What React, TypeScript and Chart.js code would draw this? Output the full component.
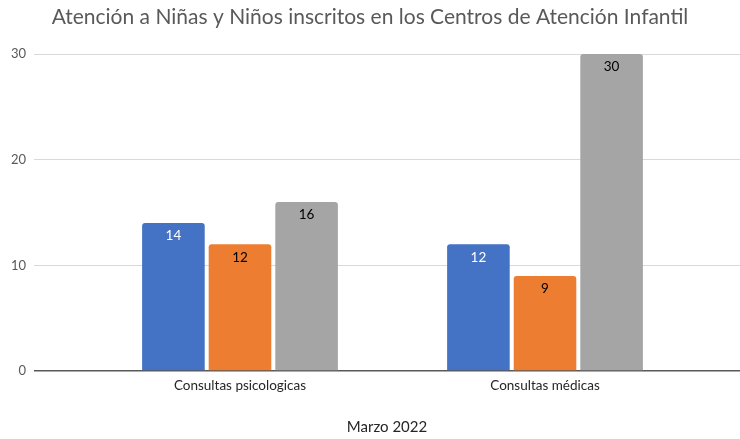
import React, { useEffect, useRef } from "react";
import { Chart, registerables } from "chart.js";

Chart.register(...registerables);

const titleText = "Atención a Niñas y Niños inscritos en los Centros de Atención Infantil";
const xAxisTitle = "Marzo 2022";
const categories = ["Consultas psicologicas", "Consultas médicas"];
const seriesA = [14, 12];
const seriesB = [12, 9];
const seriesC = [16, 30];
const yTicks = [0, 10, 20, 30];

const colors = ["#4472C4", "#ED7D31", "#A5A5A5"];
const labelColors = ["#FFFFFF", "#000000", "#000000"];
const FONT = "Lato, 'Open Sans', sans-serif";

const valueLabels = {
  id: "valueLabels",
  afterDatasetsDraw(chart: any) {
    const ctx = chart.ctx;
    ctx.save();
    ctx.font = `13.5px ${FONT}`;
    ctx.textAlign = "center";
    ctx.textBaseline = "middle";
    chart.data.datasets.forEach((ds: any, di: number) => {
      const meta = chart.getDatasetMeta(di);
      meta.data.forEach((el: any, i: number) => {
        const v = ds.data[i].y;
        ctx.fillStyle = labelColors[di];
        ctx.fillText(String(v), el.x, el.y + 13);
      });
    });
    ctx.restore();
  },
};

export default function App() {
  const ref = useRef<HTMLCanvasElement | null>(null);
  useEffect(() => {
    const toPts = (arr: number[]) => arr.map((v, i) => ({ x: i + 1, y: v }));
    const ds = [seriesA, seriesB, seriesC].map((arr, i) => ({
      label: `Serie ${i + 1}`,
      data: toPts(arr),
      backgroundColor: colors[i],
      borderRadius: { topLeft: 3, topRight: 3, bottomLeft: 0, bottomRight: 0 },
      borderSkipped: "start" as const,
      categoryPercentage: 0.655,
      barPercentage: 0.94,
    }));
    const chart = new Chart(ref.current as HTMLCanvasElement, {
      type: "bar",
      data: { datasets: ds as any },
      plugins: [valueLabels],
      options: {
        animation: false,
        responsive: false,
        maintainAspectRatio: false,
        layout: { padding: 0 },
        plugins: {
          legend: { display: false },
          tooltip: { enabled: false },
          title: {
            display: true,
            text: titleText,
            color: "#595959",
            font: { family: FONT, size: 21, weight: "normal" },
            padding: { top: 4.4, bottom: 24.4 },
          },
        },
        scales: {
          x: {
            type: "linear",
            min: 0.3246,
            max: 2.6393,
            offset: false,
            afterBuildTicks: (scale: any) => {
              scale.ticks = categories.map((_, i) => ({ value: i + 1 }));
            },
            afterFit: (scale: any) => {
              scale.height = 68;
            },
            grid: { display: false, drawTicks: false },
            border: { display: false },
            ticks: {
              autoSkip: false,
              maxRotation: 0,
              padding: 7,
              color: "#262626",
              font: { family: FONT, size: 13.5 },
              callback: (v: any) => categories[Number(v) - 1] ?? "",
            },
            title: {
              display: true,
              text: xAxisTitle,
              color: "#262626",
              font: { family: FONT, size: 15 },
              padding: { top: 4, bottom: 3 },
            },
          },
          y: {
            min: 0,
            max: 30,
            afterBuildTicks: (scale: any) => {
              scale.ticks = yTicks.map((v) => ({ value: v }));
            },
            afterFit: (scale: any) => {
              scale.width = 34;
            },
            border: { display: false },
            grid: {
              drawTicks: false,
              color: (c: any) => (c.tick && c.tick.value === 0 ? "#595959" : "#D9D9D9"),
              lineWidth: (c: any) => (c.tick && c.tick.value === 0 ? 1.5 : 1),
            },
            ticks: {
              padding: 8,
              color: "#595959",
              font: { family: FONT, size: 13 },
            },
          },
        },
      },
    });
    return () => chart.destroy();
  }, []);
  return (
    <div style={{ position: "fixed", left: 0, top: 0, width: 740, height: 439, background: "#fff" }}>
      <canvas ref={ref} width={740} height={439} style={{ width: 740, height: 439, display: "block" }} />
    </div>
  );
}
